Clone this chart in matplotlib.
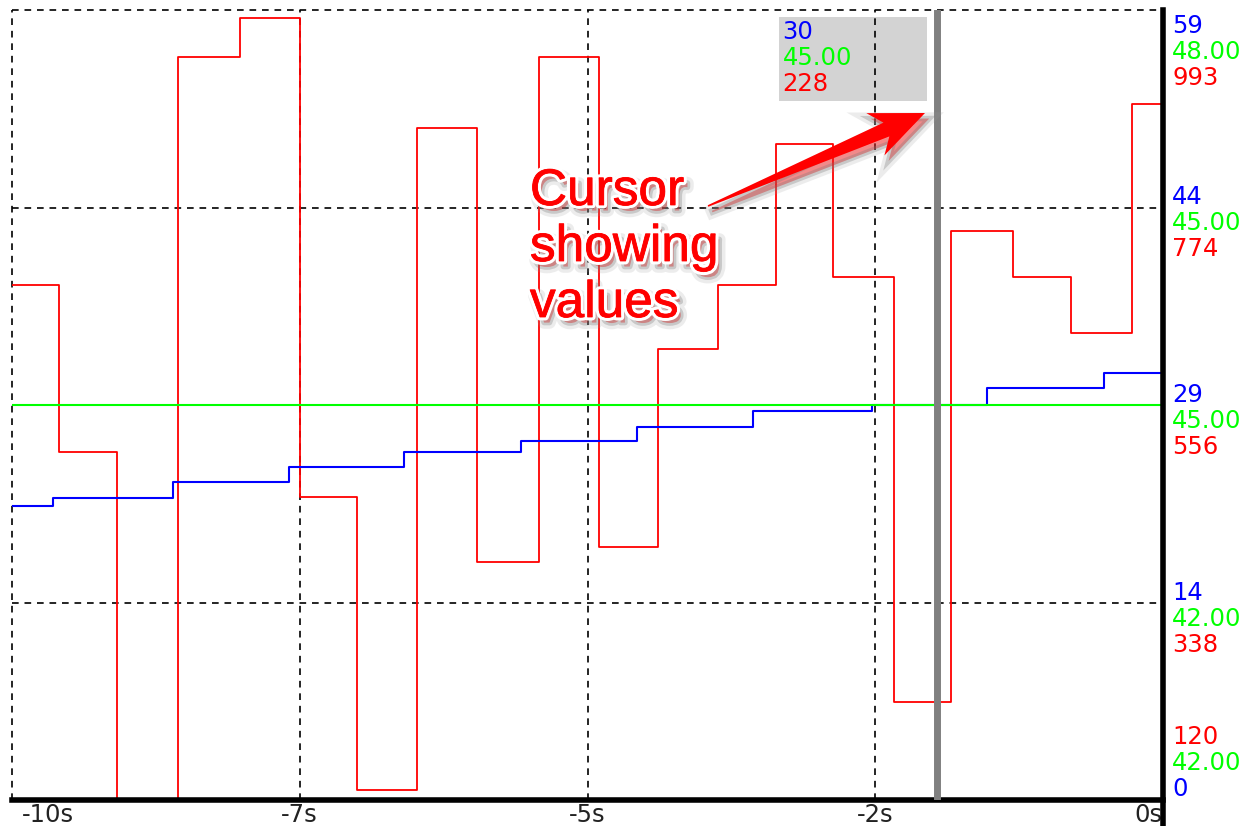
import numpy as np
import matplotlib
matplotlib.use('Agg')
import matplotlib.pyplot as plt
import matplotlib.patheffects as pe
from matplotlib.patches import Rectangle, Polygon
from matplotlib.transforms import ScaledTranslation

# step traces over the last 10 seconds
red_t = [-10, -9.59, -9.09, -8.56, -8.02, -7.50, -7.00, -6.48, -5.96, -5.42,
         -4.90, -4.39, -3.87, -3.36, -2.87, -2.34, -1.84, -1.30, -0.80, -0.27]
red_v = [689, 505, 100, 941, 984, 455, 131, 863, 383, 941,
         400, 618, 689, 845, 698, 228, 749, 698, 636, 889]

blue_t = [-10, -9.64, -8.60, -7.59, -6.59, -5.58, -4.57, -3.56, -2.53, -1.53, -0.51]
blue_v = [22.2, 22.8, 24.0, 25.2, 26.3, 27.1, 28.2, 29.4, 29.85, 31.1, 32.3]

green_t = [-10, 0]
green_v = [45.0, 45.0]

cursor_t = -1.96

x_ticks = [-10, -7.5, -5, -2.5, 0]
x_labels = ['-10s', '-7s', '-5s', '-2s', '0s']

# right-hand scale labels, bottom to top
red_labels = ['120', '338', '556', '774', '993']
green_labels = ['42.00', '42.00', '45.00', '45.00', '48.00']
blue_labels = ['0', '14', '29', '44', '59']

RED = '#ff0000'
GREEN = '#00ff00'
BLUE = '#0000ff'
FS = 17.5


def at_cursor(ts, vs, t):
    i = np.searchsorted(ts, t, side='right') - 1
    return vs[i]


fig = plt.figure(figsize=(12.55, 8.26), dpi=100)
ax = fig.add_axes([12 / 1255, 26 / 826, 1151 / 1255, 790 / 826])
axb = ax.twinx()
axg = ax.twinx()

ax.step(red_t + [0], red_v + [red_v[-1]], where='post', color=RED, lw=1.3, zorder=2)
ax.set_xlim(-10, 0)
ax.set_ylim(120, 993)

axb.step(blue_t + [0], blue_v + [blue_v[-1]], where='post', color=BLUE, lw=1.5)
axb.set_ylim(0, 59.7)
axg.step(green_t, green_v, where='post', color=GREEN, lw=1.5)
axg.set_ylim(42, 48)
for a in (axb, axg):
    a.set_axis_off()

ax.set_xticks(x_ticks)
ax.set_xticklabels(x_labels)
ax.set_yticks(np.linspace(120, 993, 5))
ax.grid(True, color='black', linestyle=(0, (4, 3.5)), linewidth=1.2)
for gl in ax.get_xgridlines() + ax.get_ygridlines():
    gl.set_clip_on(False)
ax.tick_params(axis='x', length=0, pad=2, labelsize=FS, labelcolor='#222222')
ax.tick_params(axis='y', left=False, labelleft=False)

lbls = ax.get_xticklabels()
lbls[0].set_ha('left')
lbls[0].set_transform(lbls[0].get_transform() + ScaledTranslation(7 / 72, 0, fig.dpi_scale_trans))
lbls[-1].set_ha('right')

for s in ('left', 'top', 'right'):
    ax.spines[s].set_visible(False)
ax.spines['bottom'].set_linewidth(4)
ax.spines['bottom'].set_color('black')
axg.axvline(0, ymin=-26 / 790, ymax=1, color='black', lw=4, clip_on=False, zorder=5)

# stacked scale labels on the right
fracs = np.linspace(0, 1, 5)
for i, f in enumerate(fracs):
    if i == 0:
        offs = [(red_labels[i], RED, 63), (green_labels[i], GREEN, 37), (blue_labels[i], BLUE, 11)]
    elif i == 4:
        offs = [(blue_labels[i], BLUE, -16), (green_labels[i], GREEN, -42), (red_labels[i], RED, -68)]
    else:
        offs = [(blue_labels[i], BLUE, 10), (green_labels[i], GREEN, -16), (red_labels[i], RED, -42)]
    for txt, col, dy in offs:
        ax.annotate(txt, xy=(1, f), xycoords='axes fraction', xytext=(9, dy),
                    textcoords='offset pixels', ha='left', va='center',
                    color=col, fontsize=FS, annotation_clip=False)

# cursor and its readout
axg.axvline(cursor_t, color='#808080', lw=5, zorder=3)
tr = ax.get_xaxis_transform()
ax.add_patch(Rectangle((cursor_t - 1.38, 0.8848), 1.29, 0.1063, transform=tr,
                       facecolor='#d3d3d3', edgecolor='none', zorder=1))
readout = [
    ('%d' % round(at_cursor(blue_t, blue_v, cursor_t)), BLUE),
    ('%.2f' % at_cursor(green_t, green_v, cursor_t), GREEN),
    ('%d' % round(at_cursor(red_t, red_v, cursor_t)), RED),
]
for k, (txt, col) in enumerate(readout):
    axg.text(cursor_t - 1.345, 0.9722 - k * 0.033, txt, transform=tr, color=col,
             fontsize=FS, ha='left', va='center', zorder=4)

# callout text and arrow, white halo plus a soft drop shadow
soft_shadow = [pe.Stroke(offset=(3, -4), linewidth=9, foreground='#999999', alpha=0.18),
               pe.Stroke(offset=(3, -4), linewidth=4, foreground='#777777', alpha=0.3)]
callout_fx = soft_shadow + [pe.Stroke(linewidth=5, foreground='white'),
                            pe.Stroke(linewidth=0.6, foreground=RED), pe.Normal()]
for word, y in zip(['Cursor', 'showing', 'values'], [0.7532, 0.6823, 0.6114]):
    axg.text(0.450, y, word, transform=axg.transAxes, family='Liberation Sans',
             fontsize=37, color=RED, ha='left', va='baseline', zorder=6,
             path_effects=callout_fx)


def to_axes(p):
    # pixel position (y measured down from the top) -> axes fraction
    return ((p[0] - 12) / 1151, (800 - p[1]) / 790)


tail = np.array([708.0, 206.0])
tip = np.array([925.0, 113.0])
u = (tip - tail) / np.hypot(*(tip - tail))
n = np.array([-u[1], u[0]])
head_len, head_hw, shaft_hw, notch = 54, 23, 7.5, 12
outline = [tail + n * 0.8,
           tip - u * (head_len - notch) + n * shaft_hw,
           tip - u * head_len + n * head_hw,
           tip,
           tip - u * head_len - n * head_hw,
           tip - u * (head_len - notch) - n * shaft_hw,
           tail - n * 0.8]
axg.add_patch(Polygon([to_axes(p) for p in outline], closed=True, transform=axg.transAxes,
                      facecolor=RED, edgecolor='none', zorder=6, clip_on=False,
                      path_effects=soft_shadow + [pe.Normal()]))

fig.savefig('out.png', dpi=100)
